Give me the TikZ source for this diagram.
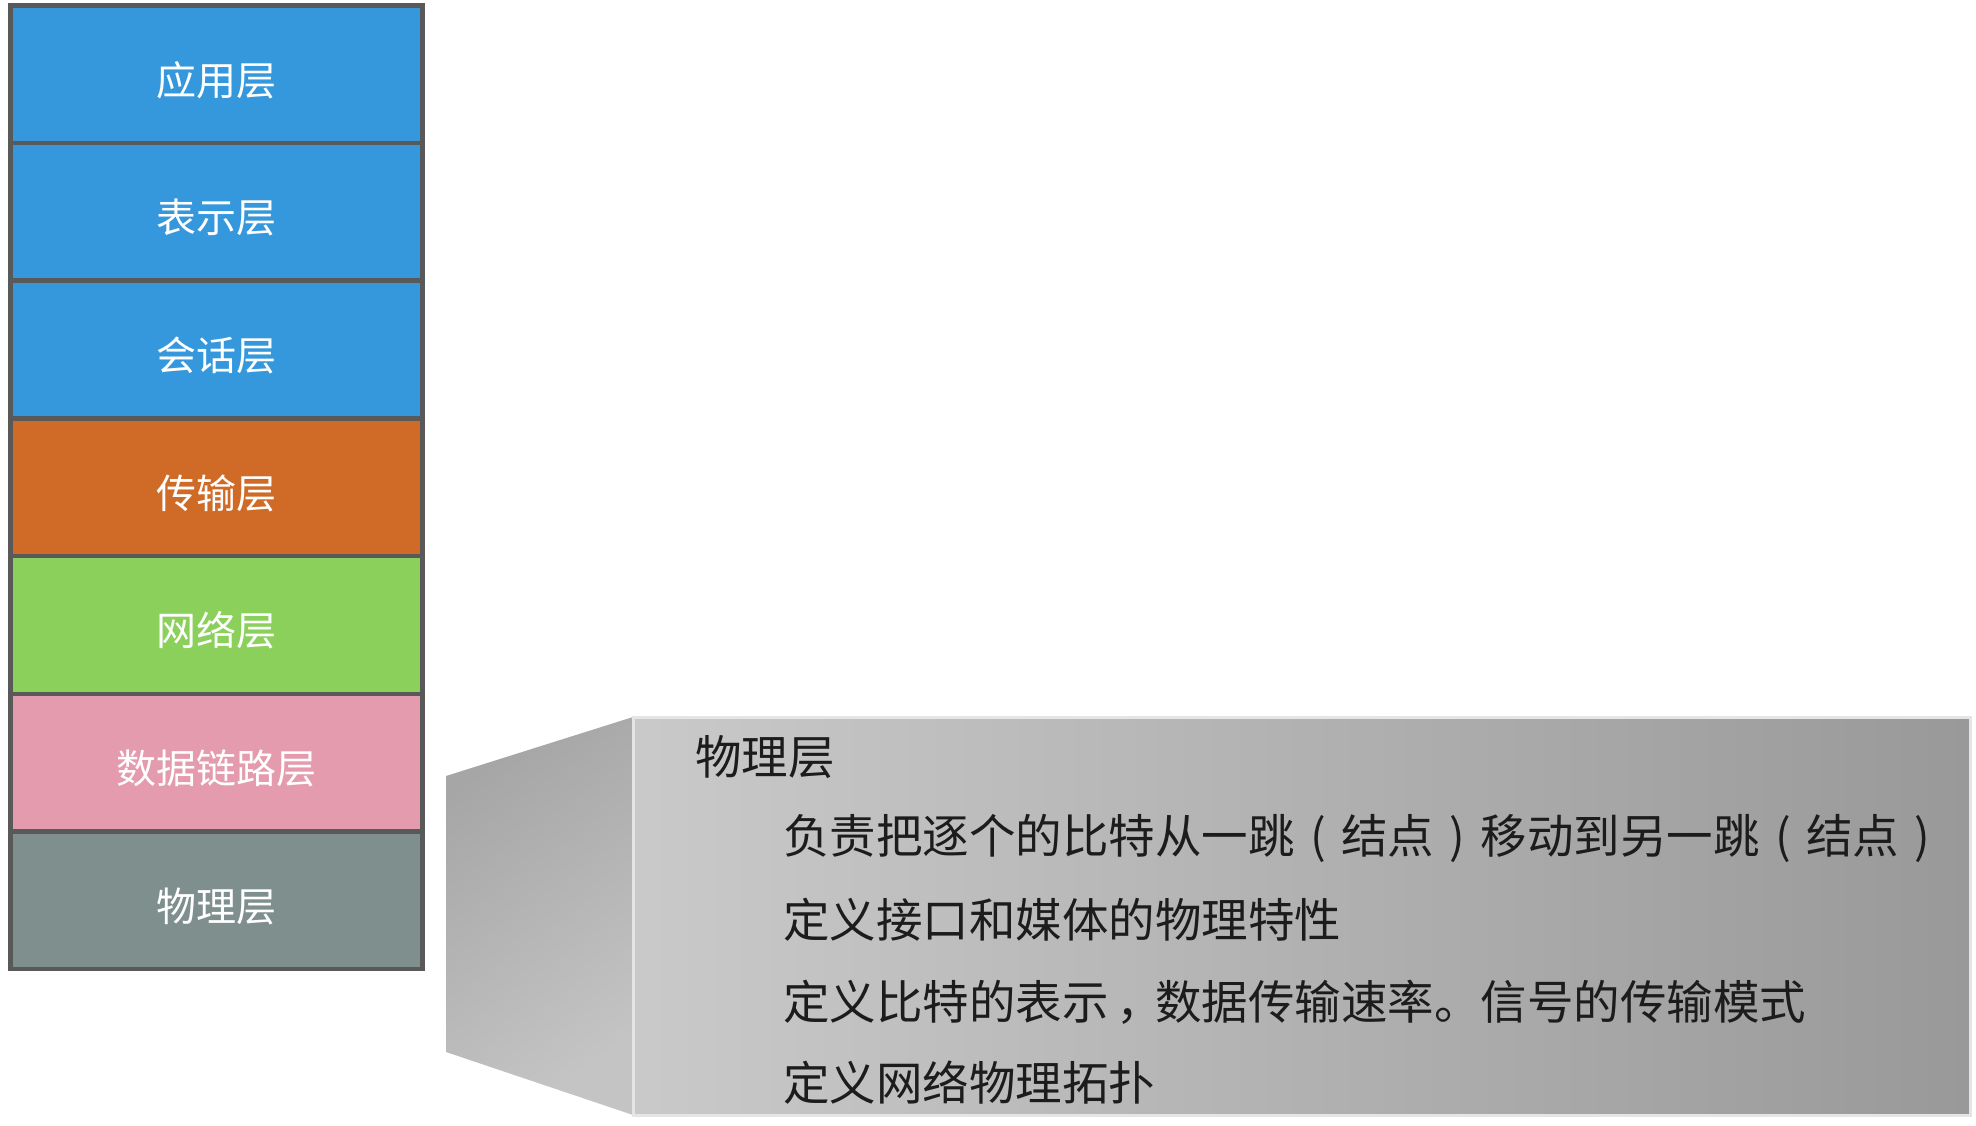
\documentclass[tikz,border=0pt]{standalone}
\usepackage{fontspec}
\newfontfamily\cjk{Noto Sans CJK SC}
\definecolor{layblue}{HTML}{3598DC}
\definecolor{layorange}{HTML}{D06B27}
\definecolor{laygreen}{HTML}{8BD05A}
\definecolor{laypink}{HTML}{E49BAE}
\definecolor{laygray}{HTML}{7F8F8E}
\definecolor{layborder}{HTML}{595959}
\definecolor{txtdark}{HTML}{1C1C1C}
\newcommand{\lpar}{\makebox[1em][c]{(}}
\newcommand{\rpar}{\makebox[1em][c]{)}}
\newcommand{\ccomma}{\makebox[1em][c]{\hspace{0.35em}，}}
\newcommand{\laytxt}[1]{\raisebox{-21pt}[0pt][0pt]{#1}}
\begin{document}
\begin{tikzpicture}[x=1pt,y=-1pt,
  layer/.style={draw=layborder,line width=4.5pt,minimum width=412pt,minimum height=137.7pt,inner sep=0pt,
    text=white,font=\cjk\fontsize{40}{48}\selectfont,anchor=north west},
  itemtxt/.style={anchor=west,inner sep=0pt,text=txtdark,font=\cjk\fontsize{46.5}{54}\selectfont}]
\useasboundingbox (0,0) rectangle (1976,1125);
% layer stack
\node[layer,fill=layblue]   (app)  at (8,3)      {\laytxt{应用层}};
\node[layer,fill=layblue]   (pre)  at (8,140.7)  {\laytxt{表示层}};
\node[layer,fill=layblue]   (ses)  at (8,278.4)  {\laytxt{会话层}};
\node[layer,fill=layorange] (tra)  at (8,416.1)  {\laytxt{传输层}};
\node[layer,fill=laygreen]  (net)  at (8,553.8)  {\laytxt{网络层}};
\node[layer,fill=laypink]   (dl)   at (8,691.5)  {\laytxt{数据链路层}};
\node[layer,fill=laygray]   (phy)  at (8,829.2)  {\laytxt{物理层}};
% callout side (trapezoid)
\shade[top color=black!35,bottom color=black!23,shading angle=35]
  (446,776) -- (633,717) -- (633,1115) -- (446,1052) -- cycle;
% callout front
\shade[left color=black!21,right color=black!40,draw=black!10,line width=3pt]
  (633,717) rectangle (1970,1115);
\node[itemtxt] (t0) at (695,757)  {物理层};
\node[itemtxt] (t1) at (783,838)  {负责把逐个的比特从一跳\lpar 结点\rpar 移动到另一跳\lpar 结点\rpar};
\node[itemtxt] (t2) at (783,920)  {定义接口和媒体的物理特性};
\node[itemtxt] (t3) at (783,1002) {定义比特的表示\ccomma 数据传输速率。信号的传输模式};
\node[itemtxt] (t4) at (783,1083) {定义网络物理拓扑};
\end{tikzpicture}
\end{document}
